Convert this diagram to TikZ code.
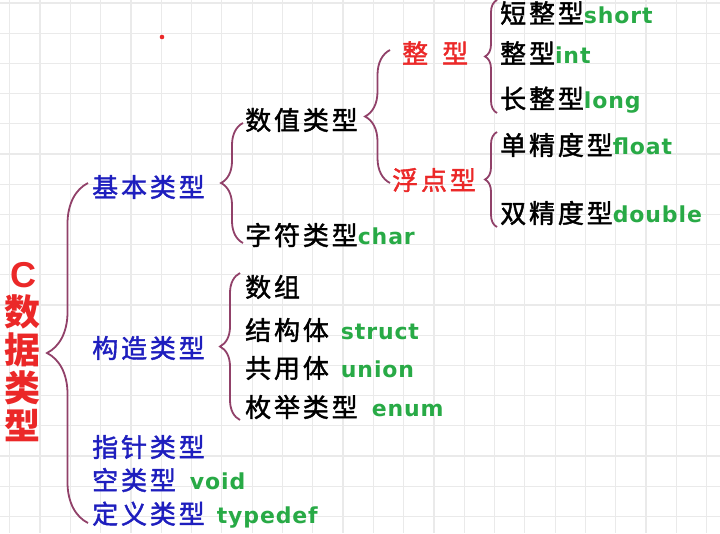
\documentclass[tikz,border=0pt]{standalone}
\usepackage{fontspec}
\usetikzlibrary{decorations.pathreplacing}

\newfontfamily\cjk[LetterSpace=11,FakeBold=1.6]{Noto Sans CJK SC}
\newfontfamily\titlecjk{Noto Sans CJK SC}
\newfontfamily\lat[LetterSpace=4]{DejaVu Sans}
\newfontfamily\titlelat{Liberation Sans}

\definecolor{kind}{RGB}{30,30,190}
\definecolor{sub}{RGB}{235,40,40}
\definecolor{eng}{RGB}{40,170,70}
\definecolor{bracecol}{RGB}{145,65,105}
\definecolor{gridgray}{RGB}{234,234,234}

\newcommand{\eng}[1]{{\lat\bfseries\fontsize{22}{26}\selectfont\color{eng}#1}}

\tikzset{
  txt/.style={anchor=west, inner sep=0pt, font=\cjk\fontsize{26}{30}\selectfont},
  kindtxt/.style={txt, text=kind},
  subtxt/.style={txt, text=sub},
  tbrace/.style={draw=bracecol, line width=1.8pt, decorate, decoration={brace, amplitude=#1}},
  gridline/.style={draw=gridgray, line width=1.2pt}
}

\begin{document}
\begin{tikzpicture}[x=1pt,y=-1pt]
\useasboundingbox (0,0) rectangle (720,533);
\fill[white] (0,0) rectangle (720,533);

% background grid
\foreach \k in {0,...,23}
  \draw[gridline] (9.7+30.3*\k,0) -- (9.7+30.3*\k,533);
\foreach \k in {0,...,17}
  \draw[gridline] (0,3+30.2*\k) -- (720,3+30.2*\k);

\fill[sub] (162,37) circle (2.3pt);

% root
\node[inner sep=0pt, align=center, text=sub, font=\titlecjk\bfseries\fontsize{36}{38}\selectfont] (root) at (23,352) {{\titlelat C}\\数\\据\\类\\型};

% first level
\node[kindtxt] (basic) at (92,187) {基本类型};
\node[kindtxt] (build) at (92,348) {构造类型};
\node[kindtxt] (ptr) at (92,447) {指针类型};
\node[kindtxt] (void) at (92,480) {空类型\hspace{14pt}\eng{void}};
\node[kindtxt] (tdef) at (92,515) {定义类型\hspace{12pt}\eng{typedef}};

% second level
\node[txt] (num) at (245,120) {数值类型};
\node[txt] (chr) at (245,235) {字符类型\eng{char}};
\node[txt] (arr) at (245,287) {数组};
\node[txt] (strc) at (245,330) {结构体\hspace{12pt}\eng{struct}};
\node[txt] (uni) at (245,368) {共用体\hspace{12pt}\eng{union}};
\node[txt] (enm) at (245,407) {枚举类型\hspace{14pt}\eng{enum}};

% integer / float
\node[subtxt] (intg) at (402,53) {整\hspace{14pt}型};
\node[subtxt] (flt) at (392,180) {浮点型};

\node[txt] (short) at (500,13) {短整型\eng{short}};
\node[txt] (int) at (500,53) {整型\eng{int}};
\node[txt] (long) at (500,100) {长整型\eng{long}};
\node[txt] (single) at (500,145) {单精度型\eng{float}};
\node[txt] (double) at (500,213) {双精度型\eng{double}};

% braces
\draw[tbrace=41pt] ([xshift=-4pt,yshift=-8pt]tdef.west) -- ([xshift=-4pt,yshift=4pt]basic.west);
\draw[tbrace=22pt] ([xshift=-2pt,yshift=-8pt]chr.west) -- ([xshift=-2pt,yshift=-3pt]num.west);
\draw[tbrace=20pt] ([xshift=-5pt,yshift=-13pt]enm.west) -- ([xshift=-5pt,yshift=14pt]arr.west);
\draw[tbrace=25pt] ([xshift=-2pt,yshift=-3pt]flt.west) -- ([xshift=-2pt,yshift=3pt]intg.west -| flt.west);
\draw[tbrace=12pt] ([xshift=-3pt,yshift=-13pt]long.west) -- ([xshift=-3pt,yshift=13pt]short.west);
\draw[tbrace=12pt] ([xshift=-3pt,yshift=-14pt]double.west) -- ([xshift=-3pt,yshift=13pt]single.west);
\end{tikzpicture}
\end{document}
